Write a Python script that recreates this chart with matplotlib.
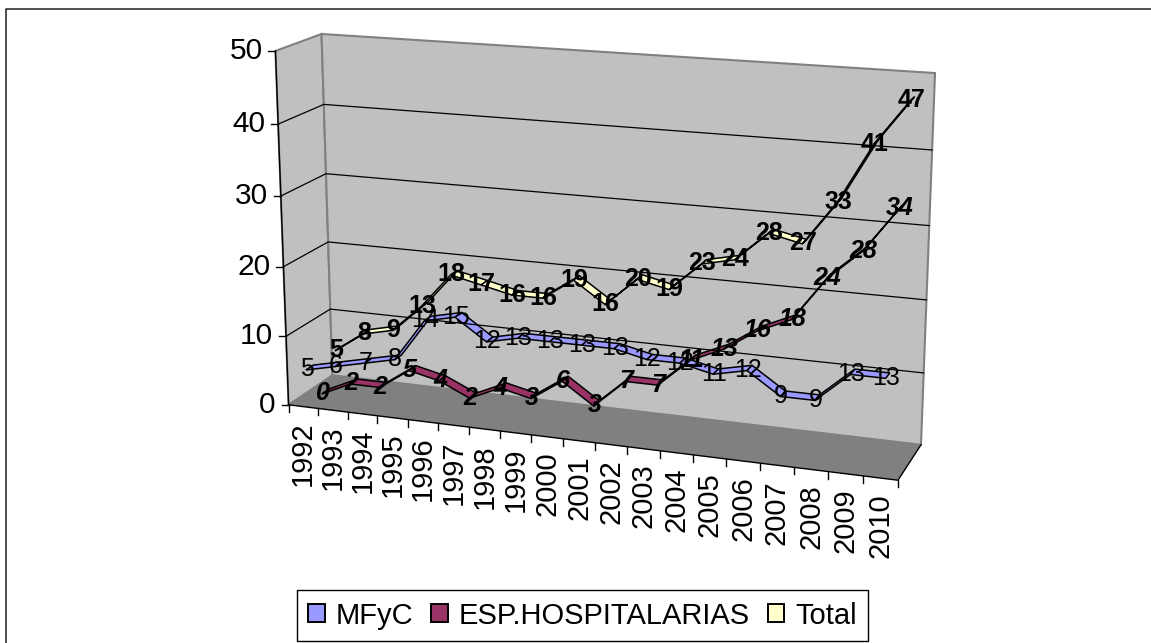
import numpy as np
import matplotlib
matplotlib.use('Agg')
import matplotlib.pyplot as plt
from matplotlib.patches import Polygon, Patch

plt.rcParams['font.family'] = ['Liberation Sans', 'DejaVu Sans']

years = [str(y) for y in range(1992, 2011)]
mfyc = [5, 6, 7, 8, 14, 15, 12, 13, 13, 13, 13, 12, 12, 11, 12, 9, 9, 13, 13]
esp = [0, 2, 2, 5, 4, 2, 4, 3, 6, 3, 7, 7, 11, 13, 16, 18, 24, 28, 34]
total = [5, 8, 9, 13, 18, 17, 16, 16, 19, 16, 20, 19, 23, 24, 28, 27, 33, 41, 47]
y_ticks = [0, 10, 20, 30, 40, 50]
names = ['MFyC', 'ESP.HOSPITALARIAS', 'Total']
colors = ['#9999FF', '#993366', '#FFFFCC']

# esquinas de la caja 3D: (x, valor, fondo) -> pixel
corners = [
    ((0, 0, 0), (289, 405)),
    ((0, 0, 1), (332, 375)),
    ((0, 1, 0), (275, 51)),
    ((0, 1, 1), (322, 34)),
    ((1, 1, 1), (935, 73)),
    ((1, 0, 1), (921, 445)),
    ((1, 0, 0), (898, 480)),
]


def fit_camera():
    rows = []
    for (x, y, z), (u, v) in corners:
        rows.append([x, y, z, 1, 0, 0, 0, 0, -u*x, -u*y, -u*z, -u])
        rows.append([0, 0, 0, 0, x, y, z, 1, -v*x, -v*y, -v*z, -v])
    return np.linalg.svd(np.array(rows, dtype=float))[2][-1].reshape(3, 4)


cam = fit_camera()


def proj(x, val, depth):
    # x en categorias, val en unidades del eje, depth de 0 a 1
    p = cam @ np.array([x/len(years), val/50, depth, 1.0])
    return p[0]/p[2], p[1]/p[2]


fig = plt.figure(figsize=(11.51, 6.43), dpi=100)
ax = fig.add_axes([0, 0, 1, 1])
ax.set_xlim(0, 1151)
ax.set_ylim(643, 0)
ax.axis('off')

# borde del grafico: solo arriba e izquierda
ax.plot([6, 6, 1151], [643, 8.5, 8.5], color='#202020', lw=1.1)

n = len(years)
wall = '#C0C0C0'
edge = '#808080'
# paredes y suelo
ax.add_patch(Polygon([proj(0, 0, 0), proj(0, 0, 1), proj(0, 50, 1), proj(0, 50, 0)],
                     fc=wall, ec=edge, lw=1.5))
ax.add_patch(Polygon([proj(0, 0, 1), proj(n, 0, 1), proj(n, 50, 1), proj(0, 50, 1)],
                     fc=wall, ec=edge, lw=1.5))
ax.add_patch(Polygon([proj(0, 0, 0), proj(n, 0, 0), proj(n, 0, 1), proj(0, 0, 1)],
                     fc='#808080', ec='none'))

# rejilla
for v in y_ticks[1:-1]:
    pts = np.array([proj(0, v, 0), proj(0, v, 1), proj(n, v, 1)])
    ax.plot(pts[:, 0], pts[:, 1], color='black', lw=0.9)

# ejes
for a, b in [((0, 0, 0), (0, 50, 0)), ((0, 0, 0), (n, 0, 0)), ((n, 0, 0), (n, 0, 1))]:
    pts = np.array([proj(*a), proj(*b)])
    ax.plot(pts[:, 0], pts[:, 1], color='black', lw=1)

for v in y_ticks:
    px, py = proj(0, v, 0)
    ax.plot([px-7, px], [py, py], color='black', lw=1)
    ax.text(px-13, py, str(v), fontsize=21.5, ha='right', va='center')

for i in range(n+1):
    px, py = proj(i, 0, 0)
    ax.plot([px, px], [py, py+7], color='black', lw=1)
for i, lab in enumerate(years):
    px, py = proj(i+0.5, 0, 0)
    ax.text(px, py+15, lab, fontsize=21, rotation=90, ha='center', va='top')

# cintas, de atras hacia delante
series = [mfyc, esp, total]
for s in [2, 1, 0]:
    vals = series[s]
    d0 = (s+0.25)/3
    d1 = (s+0.75)/3
    for i in range(n-1):
        poly = [proj(i+0.5, vals[i], d0), proj(i+1.5, vals[i+1], d0),
                proj(i+1.5, vals[i+1], d1), proj(i+0.5, vals[i], d1)]
        ax.add_patch(Polygon(poly, fc=colors[s], ec='black', lw=1.1))

# etiquetas de datos
styles = [dict(), dict(fontweight='bold', fontstyle='italic'), dict(fontweight='bold')]
for s in [2, 1, 0]:
    vals = series[s]
    for i, v in enumerate(vals):
        px, py = proj(i+0.5, v, (s+0.3)/3)
        ax.text(px, py, str(v), fontsize=18, ha='center', va='center', **styles[s])

handles = [Patch(fc=c, ec='black', lw=1.4) for c in colors]
leg = ax.legend(handles, names, loc='center', bbox_to_anchor=(582.5/1151, 1-615.5/643),
                ncol=3, fontsize=21, frameon=True, fancybox=False, edgecolor='black',
                framealpha=1, handlelength=0.58, handleheight=0.58, handletextpad=0.38,
                columnspacing=0.6, borderpad=0.38, borderaxespad=0)
leg.get_frame().set_linewidth(1)

fig.savefig('out.png', dpi=100)
